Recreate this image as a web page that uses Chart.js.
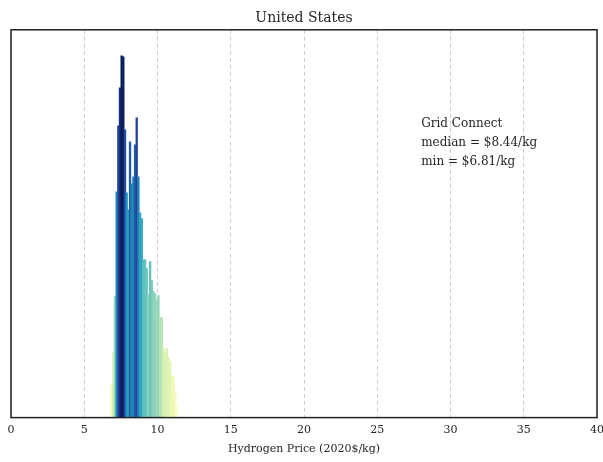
<!DOCTYPE html>
<html>
<head>
<meta charset="utf-8">
<script src="https://cdn.jsdelivr.net/npm/chart.js@4.4.1/dist/chart.umd.min.js"></script>
<style>
  html, body { margin: 0; padding: 0; background: #fff; }
  canvas { display: block; }
</style>
</head>
<body>
<canvas id="js--chart--hist" width="603" height="462"></canvas>
<script>
// histogram bins (bin centres, $/kg) and counts
const binCenters = [
  6.867, 6.981, 7.096, 7.210, 7.324, 7.439, 7.553, 7.667, 7.782, 7.896,
  8.010, 8.125, 8.239, 8.353, 8.468, 8.582, 8.696, 8.810, 8.925, 9.039,
  9.153, 9.268, 9.382, 9.496, 9.611, 9.725, 9.839, 9.954, 10.068, 10.182,
  10.296, 10.411, 10.525, 10.639, 10.754, 10.868, 10.982, 11.097, 11.211, 11.325
];
const counts = [
  33, 65, 121, 226, 292, 330, 362, 361, 288, 225,
  208, 276, 234, 241, 273, 300, 241, 205, 199, 158,
  158, 149, 123, 156, 137, 126, 124, 118, 122, 100,
  100, 70, 66, 69, 60, 56, 40, 42, 26, 13
];
const xTicks = [0, 5, 10, 15, 20, 25, 30, 35, 40];
const noteLines = ['Grid Connect', 'median = $8.44/kg', 'min = $6.81/kg'];

const serif = "'DejaVu Serif', 'Liberation Serif', serif";
const textColor = '#262626';

// YlGnBu colour map
const ylgnbu = ['#ffffd9', '#edf8b1', '#c7e9b4', '#7fcdbb', '#41b6c4', '#1d91c0', '#225ea8', '#253494', '#081d58'];

function hexToRgb(h) {
  return [parseInt(h.slice(1, 3), 16), parseInt(h.slice(3, 5), 16), parseInt(h.slice(5, 7), 16)];
}

function colorFor(t) {
  t = Math.max(0, Math.min(1, t));
  const pos = t * (ylgnbu.length - 1);
  const i = Math.min(Math.floor(pos), ylgnbu.length - 2);
  const f = pos - i;
  const a = hexToRgb(ylgnbu[i]);
  const b = hexToRgb(ylgnbu[i + 1]);
  const c = a.map((v, k) => Math.round(v + (b[k] - v) * f));
  return `rgb(${c[0]},${c[1]},${c[2]})`;
}

const maxCount = Math.max(...counts);

const frameAndNote = {
  id: 'frameAndNote',
  afterDraw(chart) {
    const { ctx, chartArea, scales } = chart;
    ctx.save();
    ctx.setLineDash([]);
    ctx.strokeStyle = '#222';
    ctx.lineWidth = 1.5;
    ctx.strokeRect(chartArea.left, chartArea.top, chartArea.right - chartArea.left, chartArea.bottom - chartArea.top);

    ctx.fillStyle = textColor;
    ctx.font = "12px " + serif;
    ctx.textAlign = 'left';
    ctx.textBaseline = 'middle';
    const x = scales.x.getPixelForValue(28);
    const y0 = scales.y.getPixelForValue(294);
    noteLines.forEach((line, i) => {
      ctx.fillText(line, x, y0 + i * 19);
    });
    ctx.restore();
  }
};

const ctx = document.getElementById('js--chart--hist');

new Chart(ctx, {
  type: 'bar',
  data: {
    datasets: [{
      label: 'Grid Connect',
      data: binCenters.map((x, i) => ({ x: x, y: counts[i] })),
      backgroundColor: c => colorFor(c.raw ? c.raw.y / maxCount : 0),
      borderWidth: 0,
      barPercentage: 1,
      categoryPercentage: 1
    }]
  },
  options: {
    responsive: false,
    animation: false,
    devicePixelRatio: 1,
    layout: { padding: { left: 11, right: 6, top: 2, bottom: 6 } },
    scales: {
      x: {
        type: 'linear',
        min: 0,
        max: 40,
        offset: false,
        afterBuildTicks: axis => { axis.ticks = xTicks.map(v => ({ value: v })); },
        // let the last label run off the edge like the original
        afterFit: axis => { axis.paddingLeft = 0; axis.paddingRight = 0; },
        ticks: {
          color: textColor,
          font: { family: serif, size: 11 },
          padding: 6,
          maxRotation: 0
        },
        grid: { color: '#cccccc', lineWidth: 1, drawTicks: false, offset: false },
        border: { display: false, dash: [4, 3] },
        title: {
          display: true,
          text: 'Hydrogen Price (2020$/kg)',
          color: textColor,
          font: { family: serif, size: 11 },
          padding: { top: 0, bottom: 0 }
        }
      },
      y: {
        display: false,
        min: 0,
        max: 388
      }
    },
    plugins: {
      legend: { display: false },
      tooltip: { enabled: false },
      title: {
        display: true,
        text: 'United States',
        color: textColor,
        font: { family: serif, size: 14, weight: 'normal' },
        padding: { top: 8, bottom: 3 }
      }
    }
  },
  plugins: [frameAndNote]
});
</script>
</body>
</html>
